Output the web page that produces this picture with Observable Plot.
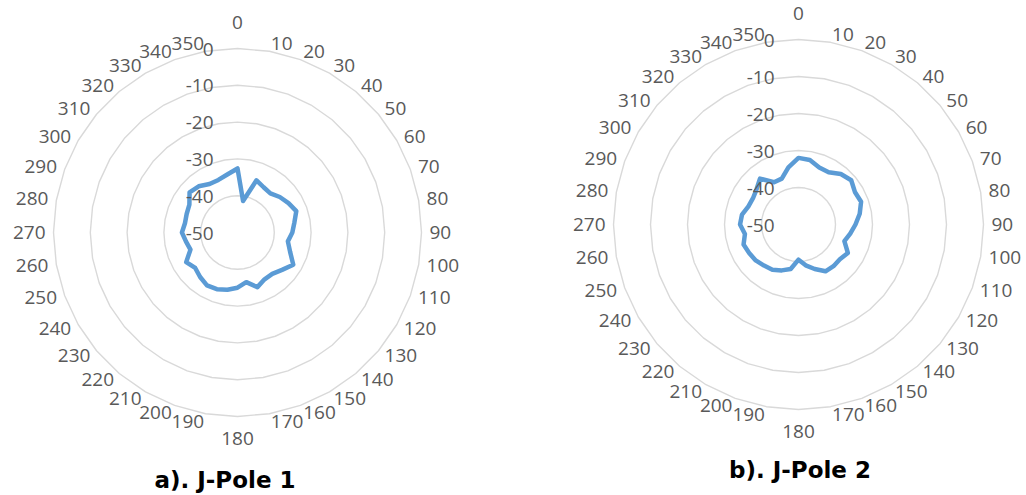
<!DOCTYPE html>
<html><head><meta charset="utf-8">
<script src="https://cdn.jsdelivr.net/npm/d3@7"></script>
<script src="https://cdn.jsdelivr.net/npm/@observablehq/plot@0.6"></script>
<style>
body{margin:0;background:#fff;}
#wrap{position:relative;width:1026px;height:495px;overflow:hidden;background:#fff;}
.chart{position:absolute;top:0;}
.title{position:absolute;font-family:"DejaVu Sans",Verdana,sans-serif;font-weight:bold;font-size:23px;color:#000;transform:translate(-50%,-50%);white-space:nowrap;}
</style></head><body>
<div id="wrap"></div>
<script>
// Angular categories (degrees) and tick labels
const angles = [0,10,20,30,40,50,60,70,80,90,100,110,120,130,140,150,160,170,180,190,200,210,220,230,240,250,260,270,280,290,300,310,320,330,340,350];
const angleLabels = ["0","10","20","30","40","50","60","70","80","90","100","110","120","130","140","150","160","170","180","190","200","210","220","230","240","250","260","270","280","290","300","310","320","330","340","350"];
// Radial gridline levels (dB) and their labels
const ringLevels = [0,-10,-20,-30,-40,-50];
const ringLabels = ["0","-10","-20","-30","-40","-50"];
// Series values (dB) per angle
const jpole1 = [-32.6,-41.3,-34.9,-35.8,-36.1,-35.0,-34.0,-33.0,-34.3,-35.1,-36.1,-34.8,-32.5,-34.2,-35.3,-35.3,-34.2,-36.3,-35.0,-34.2,-33.6,-33.4,-34.2,-35.0,-33.9,-36.4,-35.8,-34.9,-35.5,-35.3,-34.9,-33.0,-33.6,-34.8,-34.8,-34.0];
const jpole2 = [-32.0,-32.3,-33.6,-33.7,-32.2,-31.4,-32.4,-32.0,-33.2,-34.6,-35.8,-36.8,-34.6,-35.4,-35.3,-35.4,-37.2,-38.8,-40.5,-37.8,-36.8,-35.9,-35.5,-34.9,-34.6,-34.2,-35.3,-34.2,-34.5,-35.6,-35.8,-35.2,-33.8,-36.8,-36.8,-34.3];
const titles = ["a). J-Pole 1","b). J-Pole 2"];

const rMin = -50, rMax = 0;
const TXT = "#595959";

function radar(values, cfg) {
  const {cx, cy, W, H, s} = cfg;
  const rad = v => v - rMin;
  const px = (a, r) => r * Math.sin(a * Math.PI / 180);
  const py = (a, r) => r * Math.cos(a * Math.PI / 180);
  const series = angles.map((a, i) => ({a, v: values[i]}));
  const rings = ringLevels.filter(l => l > rMin).flatMap(l => angles.map(a => ({a, level: l})));
  const ringRows = ringLevels.map((l, i) => ({level: l, label: ringLabels[i]}));
  const labelR = rad(rMax) + 8 / s;
  const tick = angles.map((a, i) => ({a, label: angleLabels[i]}));
  const tx = d => px(d.a, labelR), ty = d => py(d.a, labelR);
  const common = {x: tx, y: ty, text: "label", fill: TXT, fontSize: 19};
  return Plot.plot({
    width: W, height: H, margin: 0,
    x: {domain: [-cx / s, (W - cx) / s], axis: null},
    y: {domain: [-(H - cy) / s, cy / s], axis: null},
    style: {fontFamily: "'Open Sans', sans-serif", fontSize: "19px", background: "transparent", overflow: "visible"},
    marks: [
      Plot.line(rings, {x: d => px(d.a, rad(d.level)), y: d => py(d.a, rad(d.level)), z: "level", curve: "linear-closed", stroke: "#d9d9d9", strokeWidth: 1.4}),
      Plot.line(series, {x: d => px(d.a, rad(d.v)), y: d => py(d.a, rad(d.v)), curve: "linear-closed", stroke: "#5b9bd5", strokeWidth: 4.5, strokeLinejoin: "round"}),
      Plot.text(ringRows, {x: () => 0, y: d => rad(d.level), text: "label", textAnchor: "end", dx: -24, dy: 1, fill: TXT, fontSize: 19}),
      Plot.text(tick.filter(d => d.a > 0 && d.a < 180), {...common, textAnchor: "start"}),
      Plot.text(tick.filter(d => d.a > 180), {...common, textAnchor: "end"}),
      Plot.text(tick.filter(d => d.a === 0), {...common, lineAnchor: "bottom", dy: -12}),
      Plot.text(tick.filter(d => d.a === 180), {...common, lineAnchor: "top", dy: 7})
    ]
  });
}

const wrap = document.getElementById("wrap");
const layouts = [
  {left: 0, cx: 237, cy: 232, W: 470, H: 455, s: 3.68, tx: 225, ty: 480},
  {left: 556, cx: 242, cy: 224, W: 470, H: 455, s: 3.70, tx: 800, ty: 470}
];
[jpole1, jpole2].forEach((vals, k) => {
  const L = layouts[k];
  const svg = radar(vals, L);
  svg.classList.add("chart");
  svg.style.left = L.left + "px";
  wrap.appendChild(svg);
  const t = document.createElement("div");
  t.className = "title";
  t.textContent = titles[k];
  t.style.left = L.tx + "px";
  t.style.top = L.ty + "px";
  wrap.appendChild(t);
});
</script>
</body></html>
